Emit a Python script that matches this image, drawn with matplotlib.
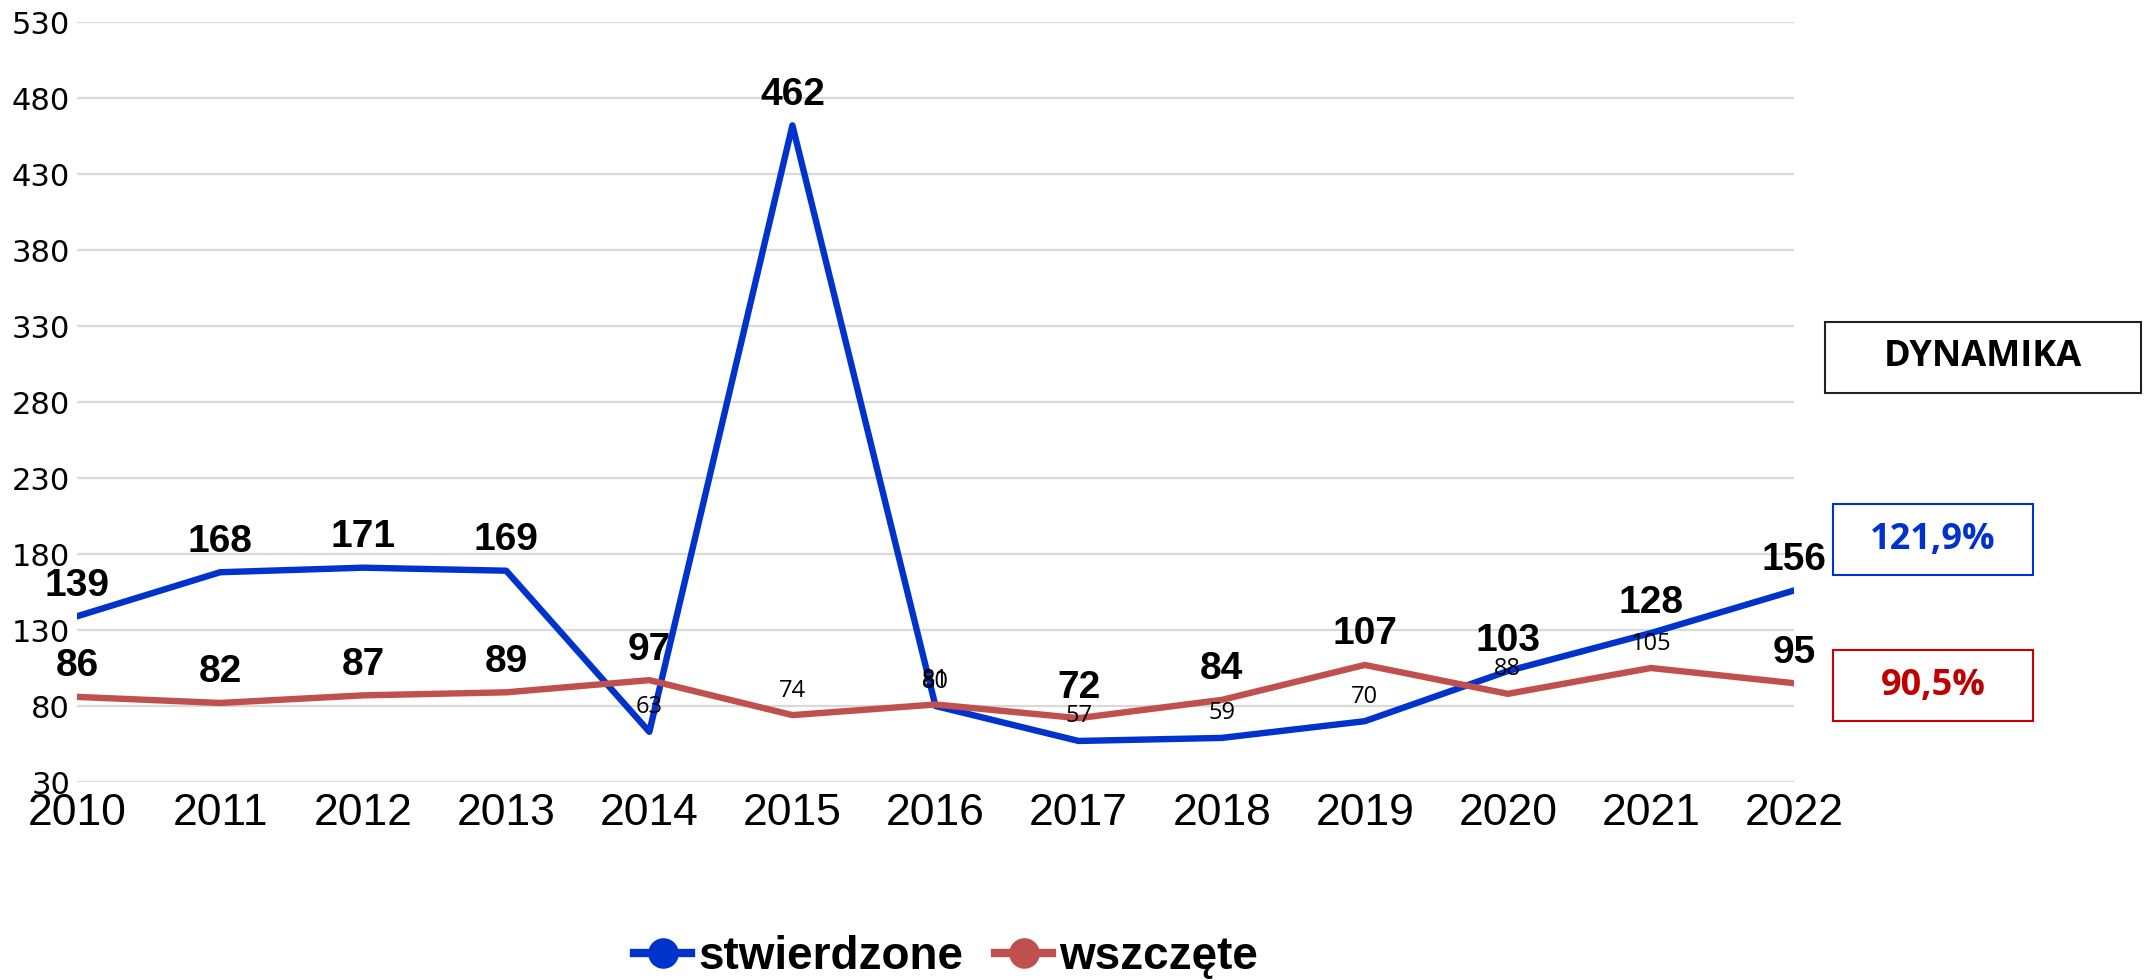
import matplotlib
matplotlib.use("Agg")
import matplotlib.pyplot as plt
from matplotlib.lines import Line2D
from matplotlib.patches import Rectangle

# data
years = [2010, 2011, 2012, 2013, 2014, 2015, 2016, 2017, 2018, 2019, 2020, 2021, 2022]
stwierdzone = [139, 168, 171, 169, 63, 462, 80, 57, 59, 70, 103, 128, 156]
wszczete = [86, 82, 87, 89, 97, 74, 81, 72, 84, 107, 88, 105, 95]
y_ticks = [30, 80, 130, 180, 230, 280, 330, 380, 430, 480, 530]
series_names = ["stwierdzone", "wszczęte"]

# years in which a series gets the big bold value label
bold_years_stw = [2010, 2011, 2012, 2013, 2015, 2020, 2021, 2022]
bold_years_wsz = [2010, 2011, 2012, 2013, 2014, 2017, 2018, 2019, 2022]

BLUE = "#0033CC"
RED = "#C0504D"
W, H = 2156, 980


def dynamika(values):
    """Last year relative to the previous one, Polish decimal comma."""
    return f"{values[-1] / values[-2] * 100:.1f}%".replace(".", ",")


def px_box(x0, y0, x1, y1):
    """Pixel box (top-left origin) -> figure fraction rectangle."""
    return (x0 / W, 1 - y1 / H, (x1 - x0) / W, (y1 - y0) / H)


def label_points(ax, values, bold_years):
    for yr, v in zip(years, values):
        if yr in bold_years:
            ax.annotate(str(v), (yr, v), xytext=(0, 9), textcoords="offset points",
                        ha="center", va="bottom", fontsize=28, fontweight="bold",
                        family="Liberation Sans", color="black", zorder=5)
        else:
            ax.annotate(str(v), (yr, v), xytext=(0, 9), textcoords="offset points",
                        ha="center", va="bottom", fontsize=17,
                        family="Open Sans", color="black", zorder=5)


fig = plt.figure(figsize=(W / 100, H / 100), dpi=100)
ax = fig.add_axes([77 / W, 1 - 782 / H, (1794 - 77) / W, (782 - 22) / H])

ax.plot(years, stwierdzone, color=BLUE, lw=4.6, solid_capstyle="round",
        solid_joinstyle="round", zorder=3)
ax.plot(years, wszczete, color=RED, lw=4.6, solid_capstyle="round",
        solid_joinstyle="round", zorder=3)

label_points(ax, stwierdzone, bold_years_stw)
label_points(ax, wszczete, bold_years_wsz)

ax.set_xlim(years[0], years[-1])
ax.set_ylim(y_ticks[0], y_ticks[-1])
ax.set_xticks(years)
ax.set_yticks(y_ticks)
ax.set_xticklabels([str(y) for y in years], family="Liberation Sans", fontsize=32)
ax.set_yticklabels([str(t) for t in y_ticks], family="DejaVu Sans", fontsize=22)
ax.tick_params(axis="x", length=0, pad=8)
ax.tick_params(axis="y", length=0, pad=5)
ax.grid(axis="y", color="#D9D9D9", lw=1.6)
ax.set_axisbelow(True)
for spine in ax.spines.values():
    spine.set_visible(False)

# DYNAMIKA boxes on the right
boxes = [
    ((1825, 322, 2141, 393), "DYNAMIKA", "#222222", "black"),
    ((1833, 504, 2033, 575), dynamika(stwierdzone), BLUE, BLUE),
    ((1833, 650, 2033, 721), dynamika(wszczete), "#CC0000", "#C00000"),
]
for (x0, y0, x1, y1), txt, edge, col in boxes:
    rx, ry, rw, rh = px_box(x0, y0, x1, y1)
    fig.add_artist(Rectangle((rx, ry), rw, rh, transform=fig.transFigure,
                             fill=False, edgecolor=edge, lw=1.5))
    fig.text(rx + rw / 2, ry + rh / 2, txt, ha="center", va="center",
             family="Open Sans", fontweight="bold", fontsize=26, color=col)

handles = [
    Line2D([], [], color=BLUE, lw=6, marker="o", markersize=21),
    Line2D([], [], color=RED, lw=6, marker="o", markersize=21),
]
leg = fig.legend(handles, series_names, loc="center", bbox_to_anchor=(946 / W, 1 - 957 / H),
                 ncol=2, frameon=False, handlelength=1.25, handletextpad=0.15,
                 columnspacing=0.7, prop={"family": "Liberation Sans", "weight": "bold", "size": 33})

fig.savefig("out.png", dpi=100)
